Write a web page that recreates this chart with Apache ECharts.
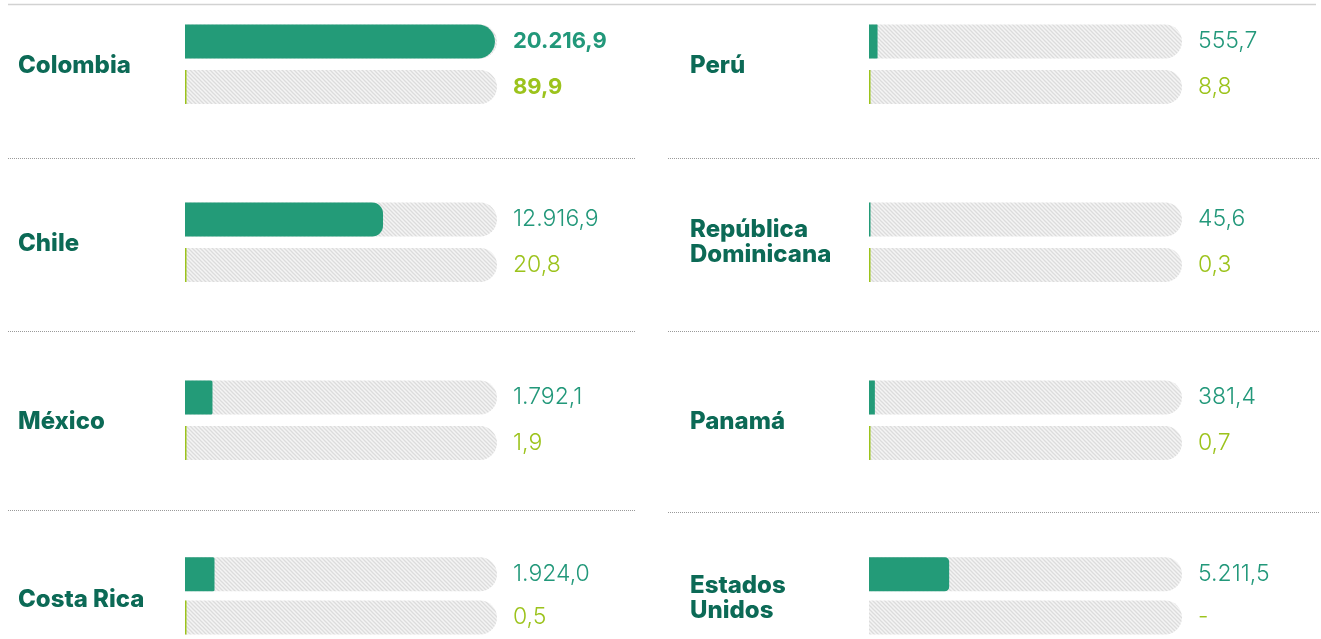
<!DOCTYPE html>
<html>
<head>
<meta charset="utf-8">
<script src="https://cdn.jsdelivr.net/npm/echarts@6/dist/echarts.min.js"></script>
<style>
  html, body { margin: 0; padding: 0; background: #ffffff; }
  #chart { width: 1321px; height: 639px; }
</style>
</head>
<body>
<div id="chart"></div>
<script>
// Countries, in column order (left column first, then right column)
const countries = ['Colombia', 'Chile', 'México', 'Costa Rica', 'Perú', 'República Dominicana', 'Panamá', 'Estados Unidos'];
// Names as printed beside each pair of bars
const countryLabels = ['Colombia', 'Chile', 'México', 'Costa Rica', 'Perú', 'República\nDominicana', 'Panamá', 'Estados\nUnidos'];
// Upper bar of each pair
const primaryValues = [20216.9, 12916.9, 1792.1, 1924.0, 555.7, 45.6, 381.4, 5211.5];
// Lower bar of each pair (null = no data, printed as "-")
const secondaryValues = [89.9, 20.8, 1.9, 0.5, 8.8, 0.3, 0.7, null];
// Country whose figures are emphasised
const highlighted = 'Colombia';

const AXIS_MAX = 20350;

const GREEN = '#239b78';
const GREEN_TEXT = '#22987a';
const LIME = '#9cc31c';
const NAME_COLOR = '#0c6a56';

function fmtEs(v) {
  if (v == null) return '-';
  const parts = v.toFixed(1).split('.');
  return parts[0].replace(/\B(?=(\d{3})+(?!\d))/g, '.') + ',' + parts[1];
}

// Diagonal hatch used for the empty track behind each bar
function makeHatch() {
  const c = document.createElement('canvas');
  c.width = 4; c.height = 4;
  const ctx = c.getContext('2d');
  ctx.fillStyle = '#f4f4f4';
  ctx.fillRect(0, 0, 4, 4);
  ctx.strokeStyle = '#dcdcdc';
  ctx.lineWidth = 1.3;
  ctx.beginPath();
  ctx.moveTo(-1, -1); ctx.lineTo(5, 5);
  ctx.moveTo(3, -1); ctx.lineTo(5, 1);
  ctx.moveTo(-1, 3); ctx.lineTo(1, 5);
  ctx.stroke();
  return c;
}
const hatch = { image: makeHatch(), repeat: 'repeat' };

const columns = [
  { nameX: 18, left: 185, width: 312 },
  { nameX: 690, left: 869, width: 313 }
];
const ROW_TOP = 18.75, ROW_STEP = 178, ROW_H = 91;

// end rounding grows with the bar's drawn length
function endRadius(value, width) {
  const px = value / AXIS_MAX * width;
  return Math.min(17, px * 0.055);
}

const grid = [], xAxis = [], yAxis = [], series = [], graphic = [];

countries.forEach((name, i) => {
  const col = columns[Math.floor(i / 4)];
  const row = i % 4;
  const top = ROW_TOP + ROW_STEP * row;
  const bold = name === highlighted;
  grid.push({ left: col.left, width: col.width, top: top, height: ROW_H });
  xAxis.push({ gridIndex: i, type: 'value', min: 0, max: AXIS_MAX, show: false });
  yAxis.push({ gridIndex: i, type: 'category', data: ['a', 'b'], inverse: true, show: false });

  const labelBase = { fontFamily: 'Inter', fontSize: bold ? 22 : 23, fontWeight: bold ? 700 : 300 };
  // hatched track carrying the value label
  series.push({
    type: 'bar', xAxisIndex: i, yAxisIndex: i, barWidth: 34, barGap: '-100%',
    silent: true,
    itemStyle: { color: hatch, borderRadius: [0, 17, 17, 0] },
    label: {
      show: true, position: 'right', distance: 16,
      formatter: p => fmtEs(p.dataIndex === 0 ? primaryValues[i] : secondaryValues[i])
    },
    data: [
      { value: AXIS_MAX, label: Object.assign({ color: GREEN_TEXT }, labelBase) },
      { value: AXIS_MAX, label: Object.assign({ color: LIME }, labelBase) }
    ]
  });
  // actual values
  const r = endRadius(primaryValues[i], col.width);
  series.push({
    type: 'bar', xAxisIndex: i, yAxisIndex: i, barWidth: 34, barGap: '-100%',
    barMinHeight: 1.5, silent: true,
    data: [
      { value: primaryValues[i], itemStyle: { color: GREEN, borderRadius: [0, r, r, 0] } },
      { value: secondaryValues[i] == null ? '-' : secondaryValues[i], itemStyle: { color: LIME, borderRadius: 0 } }
    ]
  });

  const twoLines = countryLabels[i].includes('\n');
  graphic.push({
    type: 'text', left: col.nameX,
    top: top + ROW_H / 2 - (twoLines ? 25 : 12.5) + (twoLines ? 0 : 2),
    style: {
      text: countryLabels[i], fill: NAME_COLOR,
      font: '800 24px Inter', lineHeight: 25
    }
  });
});

// separators
graphic.push({ type: 'line', shape: { x1: 8, y1: 4.5, x2: 1316, y2: 4.5 }, style: { stroke: '#d2d2d2', lineWidth: 1.5 } });
[[158.5, 331.5, 510.5], [158.5, 331.5, 512.5]].forEach((ys, c) => {
  const x1 = c === 0 ? 8 : 668, x2 = c === 0 ? 636 : 1320;
  ys.forEach(y => graphic.push({
    type: 'line', shape: { x1, y1: y, x2, y2: y },
    style: { stroke: '#9a9a9a', lineWidth: 1, lineDash: [1, 1] }
  }));
});

const chart = echarts.init(document.getElementById('chart'), null, { renderer: 'canvas' });
chart.setOption({
  animation: false,
  grid, xAxis, yAxis, series, graphic
});
</script>
</body>
</html>
